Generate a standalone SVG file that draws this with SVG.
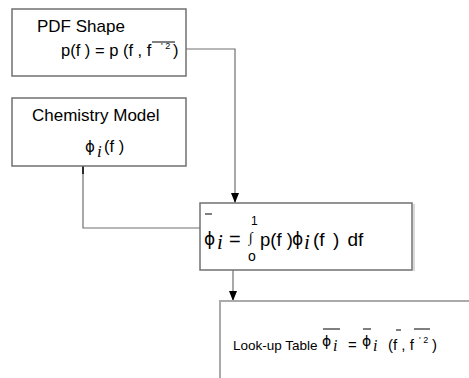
<svg xmlns="http://www.w3.org/2000/svg" width="469" height="378" viewBox="0 0 469 378">
<style>
.box{fill:#fff;stroke:#707070;stroke-width:1.5}
.con{fill:none;stroke:#707070;stroke-width:1.2}
.t{font-family:"Liberation Sans",Arial,sans-serif;fill:#000}
.s{font-family:"Liberation Serif","Times New Roman",serif;fill:#000}
.p{font-family:"DejaVu Sans",sans-serif;fill:#000}
.ol{stroke:#000;stroke-width:1}
</style>
<defs>
<marker id="ah" markerWidth="10" markerHeight="8" refX="10" refY="4" orient="auto" markerUnits="userSpaceOnUse" viewBox="0 0 10 8">
<path d="M0,0 L10,4 L0,8 Z" fill="#000"/>
</marker>
</defs>
<rect width="469" height="378" fill="#fff"/>
<g id="connectors">
<path class="con" d="M186,49 H235 V203" marker-end="url(#ah)"/>
<path class="con" d="M83,166 V228 H200"/>
<line x1="83" y1="166" x2="83" y2="174" stroke="#000" stroke-width="1.5"/>
<path class="con" d="M233,270 V301" marker-end="url(#ah)"/>
</g>
<g id="pdf-shape">
<rect class="box" x="12" y="9" width="174" height="67"/>
<text class="t" x="37" y="32" font-size="17">PDF Shape</text>
<text class="t" x="61" y="56" font-size="16.5">p(f ) = p (f , f</text>
<text class="t" x="161" y="49" font-size="9">' 2</text>
<text class="t" x="173" y="56" font-size="16.5">)</text>
<line class="ol" x1="152" y1="42" x2="175" y2="42"/>
</g>
<g id="chemistry-model">
<rect class="box" x="12" y="98" width="174" height="68"/>
<text class="t" x="32" y="121" font-size="17">Chemistry Model</text>
<text class="p" x="85" y="152" font-size="15">ϕ</text>
<text class="s" x="97" y="157" font-size="17" font-style="italic">i</text>
<text class="t" x="104" y="152" font-size="16.5">(f )</text>
</g>
<g id="integral">
<rect class="box" x="200" y="203" width="212" height="67"/>
<line x1="414" y1="204" x2="414" y2="271" stroke="#ccc" stroke-width="1.5"/>
<line class="ol" x1="205" y1="214" x2="212" y2="214"/>
<text class="p" x="204" y="245" font-size="17">ϕ</text>
<text class="s" x="217" y="249" font-size="21" font-style="italic">i</text>
<text class="t" x="229" y="246" font-size="20">=</text>
<text class="t" x="251" y="225" font-size="12">1</text>
<text class="s" x="249" y="242" font-size="14">∫</text>
<text class="t" x="248" y="261" font-size="14">o</text>
<text class="t" x="260" y="246" font-size="18.5">p(f )</text>
<text class="p" x="292" y="245" font-size="17">ϕ</text>
<text class="s" x="304" y="249" font-size="21" font-style="italic">i</text>
<text class="t" x="313" y="246" font-size="19" word-spacing="3">(f ) df</text>
</g>
<g id="lookup-table">
<path class="box" d="M220,378 V301 H470" style="stroke:#aaa;stroke-width:2"/>
<text class="t" x="233" y="350" font-size="13.5">Look-up Table</text>
<line class="ol" x1="323" y1="329" x2="340" y2="329"/>
<text class="p" x="322" y="346" font-size="14">ϕ</text>
<text class="s" x="333" y="351" font-size="16" font-style="italic">i</text>
<text class="t" x="348" y="350" font-size="15">=</text>
<line class="ol" x1="363" y1="329" x2="371" y2="329"/>
<text class="p" x="362" y="346" font-size="14">ϕ</text>
<text class="s" x="373" y="351" font-size="16" font-style="italic">i</text>
<text class="t" x="388" y="350" font-size="15">(f , f</text>
<line class="ol" x1="396" y1="330" x2="401" y2="330"/>
<line class="ol" x1="414" y1="329" x2="430" y2="329"/>
<text class="t" x="419" y="343" font-size="9">' 2</text>
<text class="t" x="432" y="350" font-size="15">)</text>
</g>
</svg>
